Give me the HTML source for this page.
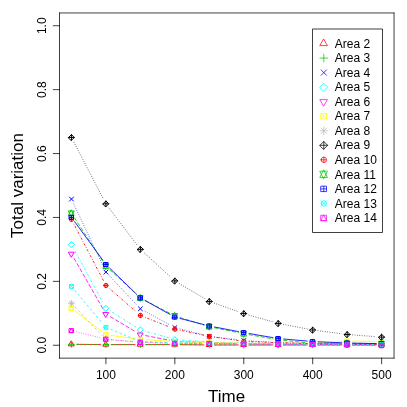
<!DOCTYPE html>
<html><head><meta charset="utf-8"><title>Total variation</title>
<style>html,body{margin:0;padding:0;background:#fff;width:407px;height:407px;overflow:hidden}</style>
</head><body>
<svg width="407" height="407" viewBox="0 0 407 407" style="position:absolute;left:0;top:0;display:block;will-change:transform">
<rect width="407" height="407" fill="#fff"/>
<g fill="none" stroke-linecap="round" stroke-linejoin="round" stroke-width="0.85">
<path d="M76.85 344.35L100.51 344.57M111.31 344.62L134.98 344.62M145.78 344.62L169.44 344.62M180.24 344.67L203.91 344.89M214.71 344.94L238.37 344.94M249.17 344.94L272.84 344.94M283.64 344.94L307.30 344.94M318.10 344.94L341.77 344.94M352.57 344.94L376.23 344.94" stroke="#FF0000" stroke-width="0.85"/>
<path d="M71.45 341.15L74.17 345.88L68.72 345.88ZM105.91 341.47L108.64 346.19L103.19 346.19ZM140.38 341.47L143.10 346.19L137.65 346.19ZM174.84 341.47L177.57 346.19L172.12 346.19ZM209.31 341.79L212.03 346.51L206.58 346.51ZM243.77 341.79L246.50 346.51L241.05 346.51ZM278.24 341.79L280.96 346.51L275.51 346.51ZM312.70 341.79L315.43 346.51L309.98 346.51ZM347.17 341.79L349.89 346.51L344.44 346.51ZM381.63 341.79L384.36 346.51L378.91 346.51Z" stroke="#FF0000" stroke-width="1.0"/>
<path d="M76.85 344.35L100.51 344.57M111.31 344.62L134.98 344.62M145.78 344.62L169.44 344.62M180.24 344.67L203.91 344.89M214.71 344.94L238.37 344.94M249.17 344.94L272.84 344.94M283.64 344.94L307.30 344.94M318.10 344.94L341.77 344.94M352.57 344.94L376.23 344.94" stroke="#00CD00" stroke-width="0.85" stroke-dasharray="1.55 3.25"/>
<path d="M68.58 344.30L74.31 344.30M71.45 341.44L71.45 347.16M103.05 344.62L108.78 344.62M105.91 341.76L105.91 347.48M137.51 344.62L143.24 344.62M140.38 341.76L140.38 347.48M171.98 344.62L177.71 344.62M174.84 341.76L174.84 347.48M206.44 344.94L212.17 344.94M209.31 342.08L209.31 347.80M240.91 344.94L246.64 344.94M243.77 342.08L243.77 347.80M275.37 344.94L281.10 344.94M278.24 342.08L278.24 347.80M309.84 344.94L315.57 344.94M312.70 342.08L312.70 347.80M344.30 344.94L350.03 344.94M347.17 342.08L347.17 347.80M378.77 344.94L384.50 344.94M381.63 342.08L381.63 347.80" stroke="#00CD00" stroke-width="1.0"/>
<path d="M73.75 203.96L103.61 267.21M109.61 276.03L136.68 304.87M145.12 311.39L170.10 325.01M180.08 328.92L204.07 335.04M214.67 337.02L238.41 339.86M249.16 340.84L272.85 342.36M283.64 342.85L307.30 343.51M318.10 343.71L341.77 343.93M352.57 344.03L376.23 344.25" stroke="#0000FF" stroke-width="0.68" stroke-dasharray="0.01 2.39"/>
<path d="M69.42 197.05L73.47 201.10M69.42 201.10L73.47 197.05M103.89 270.06L107.94 274.11M103.89 274.11L107.94 270.06M138.35 306.78L142.40 310.83M138.35 310.83L142.40 306.78M172.82 325.56L176.87 329.61M172.82 329.61L176.87 325.56M207.28 334.35L211.33 338.40M207.28 338.40L211.33 334.35M241.75 338.47L245.80 342.52M241.75 342.52L245.80 338.47M276.21 340.68L280.26 344.73M276.21 344.73L280.26 340.68M310.68 341.64L314.73 345.69M310.68 345.69L314.73 341.64M345.14 341.96L349.19 346.01M345.14 346.01L349.19 341.96M379.61 342.28L383.66 346.33M379.61 346.33L383.66 342.28" stroke="#0000FF" stroke-width="1.0"/>
<path d="M74.02 249.23L103.34 303.45M110.49 311.06L135.80 326.93M145.57 331.26L169.64 338.04M180.23 339.91L203.92 341.66M214.71 342.21L238.37 342.87M249.17 343.12L272.84 343.56M283.64 343.71L307.30 343.93M318.10 343.98L341.77 343.98M352.57 344.03L376.23 344.25" stroke="#00FFFF" stroke-width="0.85" stroke-dasharray="0.01 2.39 1.55 2.65"/>
<path d="M68.58 244.48L71.45 241.62L74.31 244.48L71.45 247.35ZM103.05 308.20L105.91 305.33L108.78 308.20L105.91 311.06ZM137.51 329.79L140.38 326.93L143.24 329.79L140.38 332.66ZM171.98 339.51L174.84 336.64L177.71 339.51L174.84 342.37ZM206.44 342.06L209.31 339.20L212.17 342.06L209.31 344.93ZM240.91 343.02L243.77 340.16L246.64 343.02L243.77 345.89ZM275.37 343.66L278.24 340.80L281.10 343.66L278.24 346.53ZM309.84 343.98L312.70 341.12L315.57 343.98L312.70 346.84ZM344.30 343.98L347.17 341.12L350.03 343.98L347.17 346.84ZM378.77 344.30L381.63 341.44L384.50 344.30L381.63 347.16Z" stroke="#00FFFF" stroke-width="1.0"/>
<path d="M74.13 258.47L103.23 309.32M110.55 316.78L135.74 331.82M145.68 335.61L169.54 340.24M180.24 341.49L203.91 342.48M214.71 342.85L238.37 343.51M249.17 343.71L272.84 343.93M283.64 343.98L307.30 343.98M318.10 344.03L341.77 344.25M352.57 344.35L376.23 344.57" stroke="#FF00FF" stroke-width="0.85" stroke-dasharray="3.35 2.65"/>
<path d="M71.45 256.93L74.17 252.21L68.72 252.21ZM105.91 317.16L108.64 312.44L103.19 312.44ZM140.38 337.74L143.10 333.01L137.65 333.01ZM174.84 344.41L177.57 339.69L172.12 339.69ZM209.31 345.85L212.03 341.13L206.58 341.13ZM243.77 346.81L246.50 342.09L241.05 342.09ZM278.24 347.13L280.96 342.41L275.51 342.41ZM312.70 347.13L315.43 342.41L309.98 342.41ZM347.17 347.45L349.89 342.73L344.44 342.73ZM381.63 347.77L384.36 343.05L378.91 343.05Z" stroke="#FF00FF" stroke-width="1.0"/>
<path d="M75.74 311.66L101.62 331.44M111.26 335.44L135.03 338.68M145.77 339.74L169.45 341.16M180.24 341.68L203.91 342.51M214.71 342.80L238.37 343.24M249.17 343.34L272.84 343.34M283.64 343.34L307.30 343.34M318.09 342.97L341.78 341.32M352.57 341.07L376.23 341.62" stroke="#FFFF00" stroke-width="0.85"/>
<path d="M69.42 306.36L73.47 310.41M69.42 310.41L73.47 306.36M69.42 306.36L73.47 306.36L73.47 310.41L69.42 310.41ZM103.89 332.69L107.94 336.74M103.89 336.74L107.94 332.69M103.89 332.69L107.94 332.69L107.94 336.74L103.89 336.74ZM138.35 337.39L142.40 341.44M138.35 341.44L142.40 337.39M138.35 337.39L142.40 337.39L142.40 341.44L138.35 341.44ZM172.82 339.46L176.87 343.51M172.82 343.51L176.87 339.46M172.82 339.46L176.87 339.46L176.87 343.51L172.82 343.51ZM207.28 340.68L211.33 344.73M207.28 344.73L211.33 340.68M207.28 340.68L211.33 340.68L211.33 344.73L207.28 344.73ZM241.75 341.32L245.80 345.37M241.75 345.37L245.80 341.32M241.75 341.32L245.80 341.32L245.80 345.37L241.75 345.37ZM276.21 341.32L280.26 345.37M276.21 345.37L280.26 341.32M276.21 341.32L280.26 341.32L280.26 345.37L276.21 345.37ZM310.68 341.32L314.73 345.37M310.68 345.37L314.73 341.32M310.68 341.32L314.73 341.32L314.73 345.37L310.68 345.37ZM345.14 338.92L349.19 342.97M345.14 342.97L349.19 338.92M345.14 338.92L349.19 338.92L349.19 342.97L345.14 342.97ZM379.61 339.72L383.66 343.77M379.61 343.77L383.66 339.72M379.61 339.72L383.66 339.72L383.66 343.77L379.61 343.77Z" stroke="#FFFF00" stroke-width="1.0"/>
<path d="M75.18 307.31L102.18 335.60M111.30 339.91L134.99 341.66M145.77 342.26L169.45 343.14M180.24 343.39L203.91 343.61M214.71 343.71L238.37 343.93M249.17 343.98L272.84 343.98M283.64 344.03L307.30 344.25M318.10 344.30L341.77 344.30M352.57 344.30L376.23 344.30" stroke="#BEBEBE" stroke-width="0.85" stroke-dasharray="1.55 3.25"/>
<path d="M69.42 301.38L73.47 305.43M69.42 305.43L73.47 301.38M68.58 303.40L74.31 303.40M71.45 300.54L71.45 306.27M103.89 337.48L107.94 341.53M103.89 341.53L107.94 337.48M103.05 339.51L108.78 339.51M105.91 336.64L105.91 342.37M138.35 340.04L142.40 344.09M138.35 344.09L142.40 340.04M137.51 342.06L143.24 342.06M140.38 339.20L140.38 344.93M172.82 341.32L176.87 345.37M172.82 345.37L176.87 341.32M171.98 343.34L177.71 343.34M174.84 340.48L174.84 346.21M207.28 341.64L211.33 345.69M207.28 345.69L211.33 341.64M206.44 343.66L212.17 343.66M209.31 340.80L209.31 346.53M241.75 341.96L245.80 346.01M241.75 346.01L245.80 341.96M240.91 343.98L246.64 343.98M243.77 341.12L243.77 346.84M276.21 341.96L280.26 346.01M276.21 346.01L280.26 341.96M275.37 343.98L281.10 343.98M278.24 341.12L278.24 346.84M310.68 342.28L314.73 346.33M310.68 346.33L314.73 342.28M309.84 344.30L315.57 344.30M312.70 341.44L312.70 347.16M345.14 342.28L349.19 346.33M345.14 346.33L349.19 342.28M344.30 344.30L350.03 344.30M347.17 341.44L347.17 347.16M379.61 342.28L383.66 346.33M379.61 346.33L383.66 342.28M378.77 344.30L384.50 344.30M381.63 341.44L381.63 347.16" stroke="#BEBEBE" stroke-width="1.0"/>
<path d="M73.94 142.24L103.42 199.02M109.17 208.11L137.12 245.03M144.36 252.99L170.86 277.26M179.48 283.67L204.67 298.69M214.40 303.25L238.68 311.80M248.97 315.07L273.04 321.93M283.54 324.42L307.40 328.97M318.06 330.69L341.81 333.79M352.55 334.90L376.25 336.70" stroke="#000000" stroke-width="0.68" stroke-dasharray="0.01 2.39"/>
<path d="M68.58 137.44L74.31 137.44M71.45 134.58L71.45 140.31M68.58 137.44L71.45 134.58L74.31 137.44L71.45 140.31ZM103.05 203.81L108.78 203.81M105.91 200.94L105.91 206.67M103.05 203.81L105.91 200.94L108.78 203.81L105.91 206.67ZM137.51 249.34L143.24 249.34M140.38 246.48L140.38 252.20M137.51 249.34L140.38 246.48L143.24 249.34L140.38 252.20ZM171.98 280.91L177.71 280.91M174.84 278.04L174.84 283.77M171.98 280.91L174.84 278.04L177.71 280.91L174.84 283.77ZM206.44 301.45L212.17 301.45M209.31 298.59L209.31 304.32M206.44 301.45L209.31 298.59L212.17 301.45L209.31 304.32ZM240.91 313.59L246.64 313.59M243.77 310.73L243.77 316.46M240.91 313.59L243.77 310.73L246.64 313.59L243.77 316.46ZM275.37 323.40L281.10 323.40M278.24 320.54L278.24 326.27M275.37 323.40L278.24 320.54L281.10 323.40L278.24 326.27ZM309.84 329.99L315.57 329.99M312.70 327.12L312.70 332.85M309.84 329.99L312.70 327.12L315.57 329.99L312.70 332.85ZM344.30 334.49L350.03 334.49M347.17 331.63L347.17 337.36M344.30 334.49L347.17 331.63L350.03 334.49L347.17 337.36ZM378.77 337.11L384.50 337.11M381.63 334.25L381.63 339.98M378.77 337.11L381.63 334.25L384.50 337.11L381.63 339.98Z" stroke="#000000" stroke-width="1.0"/>
<path d="M73.94 224.16L103.42 280.66M109.99 288.99L136.30 311.90M145.40 317.44L169.82 327.10M180.12 330.22L204.03 335.31M214.65 337.19L238.43 340.54M249.17 341.52L272.84 342.48M283.64 342.85L307.30 343.51M318.10 343.71L341.77 343.93M352.57 344.03L376.23 344.25" stroke="#FF0000" stroke-width="0.85" stroke-dasharray="0.01 2.39 1.55 2.65"/>
<path d="M69.42 219.37a2.03 2.03 0 1 0 4.05 0a2.03 2.03 0 1 0 -4.05 0ZM69.42 219.37L73.47 219.37M71.45 217.34L71.45 221.39M103.89 285.45a2.03 2.03 0 1 0 4.05 0a2.03 2.03 0 1 0 -4.05 0ZM103.89 285.45L107.94 285.45M105.91 283.42L105.91 287.47M138.35 315.45a2.03 2.03 0 1 0 4.05 0a2.03 2.03 0 1 0 -4.05 0ZM138.35 315.45L142.40 315.45M140.38 313.42L140.38 317.47M172.82 329.09a2.03 2.03 0 1 0 4.05 0a2.03 2.03 0 1 0 -4.05 0ZM172.82 329.09L176.87 329.09M174.84 327.07L174.84 331.12M207.28 336.44a2.03 2.03 0 1 0 4.05 0a2.03 2.03 0 1 0 -4.05 0ZM207.28 336.44L211.33 336.44M209.31 334.42L209.31 338.47M241.75 341.30a2.03 2.03 0 1 0 4.05 0a2.03 2.03 0 1 0 -4.05 0ZM241.75 341.30L245.80 341.30M243.77 339.27L243.77 343.32M276.21 342.70a2.03 2.03 0 1 0 4.05 0a2.03 2.03 0 1 0 -4.05 0ZM276.21 342.70L280.26 342.70M278.24 340.68L278.24 344.73M310.68 343.66a2.03 2.03 0 1 0 4.05 0a2.03 2.03 0 1 0 -4.05 0ZM310.68 343.66L314.73 343.66M312.70 341.64L312.70 345.69M345.14 343.98a2.03 2.03 0 1 0 4.05 0a2.03 2.03 0 1 0 -4.05 0ZM345.14 343.98L349.19 343.98M347.17 341.96L347.17 346.01M379.61 344.30a2.03 2.03 0 1 0 4.05 0a2.03 2.03 0 1 0 -4.05 0ZM379.61 344.30L383.66 344.30M381.63 342.28L381.63 346.33" stroke="#FF0000" stroke-width="1.0"/>
<path d="M74.40 217.82L102.96 261.50M109.87 269.69L136.42 294.30M145.17 300.46L170.05 313.38M179.99 317.49L204.16 325.10M214.60 327.81L238.48 332.68M249.09 334.69L272.92 338.89M283.61 340.38L307.33 342.79M318.10 343.34L341.77 343.34M352.57 343.39L376.23 343.61" stroke="#00CD00" stroke-width="0.85" stroke-dasharray="3.35 2.65"/>
<path d="M71.45 216.45L74.17 210.94L68.72 210.94ZM71.45 210.15L74.17 215.66L68.72 215.66ZM105.91 269.17L108.64 263.66L103.19 263.66ZM105.91 262.87L108.64 268.38L103.19 268.38ZM140.38 301.12L143.10 295.61L137.65 295.61ZM140.38 294.82L143.10 300.33L137.65 300.33ZM174.84 319.01L177.57 313.50L172.12 313.50ZM174.84 312.71L177.57 318.23L172.12 318.23ZM209.31 329.88L212.03 324.37L206.58 324.37ZM209.31 323.58L212.03 329.09L206.58 329.09ZM243.77 336.91L246.50 331.39L241.05 331.39ZM243.77 330.61L246.50 336.12L241.05 336.12ZM278.24 342.98L280.96 337.47L275.51 337.47ZM278.24 336.68L280.96 342.19L275.51 342.19ZM312.70 346.49L315.43 340.98L309.98 340.98ZM312.70 340.19L315.43 345.70L309.98 345.70ZM347.17 346.49L349.89 340.98L344.44 340.98ZM347.17 340.19L349.89 345.70L344.44 345.70ZM381.63 346.81L384.36 341.30L378.91 341.30ZM381.63 340.51L384.36 346.02L378.91 346.02Z" stroke="#00CD00" stroke-width="1.0"/>
<path d="M74.63 221.65L102.73 260.12M109.79 268.24L136.50 294.15M145.09 300.53L170.13 314.48M180.07 318.46L204.08 324.64M214.61 327.01L238.47 331.59M249.09 333.52L272.92 337.63M283.62 339.02L307.32 341.08M318.10 341.78L341.77 342.79M352.57 343.12L376.23 343.56" stroke="#0000FF" stroke-width="0.85"/>
<path d="M69.42 217.29L73.47 217.29M71.45 215.27L71.45 219.32M69.42 215.27L73.47 215.27L73.47 219.32L69.42 219.32ZM103.89 264.48L107.94 264.48M105.91 262.46L105.91 266.51M103.89 262.46L107.94 262.46L107.94 266.51L103.89 266.51ZM138.35 297.91L142.40 297.91M140.38 295.88L140.38 299.93M138.35 295.88L142.40 295.88L142.40 299.93L138.35 299.93ZM172.82 317.11L176.87 317.11M174.84 315.08L174.84 319.13M172.82 315.08L176.87 315.08L176.87 319.13L172.82 319.13ZM207.28 325.99L211.33 325.99M209.31 323.97L209.31 328.02M207.28 323.97L211.33 323.97L211.33 328.02L207.28 328.02ZM241.75 332.61L245.80 332.61M243.77 330.58L243.77 334.63M241.75 330.58L245.80 330.58L245.80 334.63L241.75 334.63ZM276.21 338.55L280.26 338.55M278.24 336.52L278.24 340.57M276.21 336.52L280.26 336.52L280.26 340.57L276.21 340.57ZM310.68 341.55L314.73 341.55M312.70 339.53L312.70 343.58M310.68 339.53L314.73 339.53L314.73 343.58L310.68 343.58ZM345.14 343.02L349.19 343.02M347.17 341.00L347.17 345.05M345.14 341.00L349.19 341.00L349.19 345.05L345.14 345.05ZM379.61 343.66L383.66 343.66M381.63 341.64L381.63 345.69M379.61 341.64L383.66 341.64L383.66 345.69L379.61 345.69Z" stroke="#0000FF" stroke-width="1.0"/>
<path d="M74.93 290.60L102.43 323.27M110.91 329.44L135.38 339.45M145.77 341.68L169.45 342.51M180.24 342.80L203.91 343.24M214.71 343.39L238.37 343.61M249.17 343.71L272.84 343.93M283.64 344.03L307.30 344.25M318.10 344.30L341.77 344.30M352.57 344.35L376.23 344.57" stroke="#00FFFF" stroke-width="0.85" stroke-dasharray="1.55 3.25"/>
<path d="M69.42 286.47a2.03 2.03 0 1 0 4.05 0a2.03 2.03 0 1 0 -4.05 0ZM69.42 284.44L73.47 288.49M69.42 288.49L73.47 284.44M103.89 327.40a2.03 2.03 0 1 0 4.05 0a2.03 2.03 0 1 0 -4.05 0ZM103.89 325.37L107.94 329.42M103.89 329.42L107.94 325.37M138.35 341.49a2.03 2.03 0 1 0 4.05 0a2.03 2.03 0 1 0 -4.05 0ZM138.35 339.46L142.40 343.51M138.35 343.51L142.40 339.46M172.82 342.70a2.03 2.03 0 1 0 4.05 0a2.03 2.03 0 1 0 -4.05 0ZM172.82 340.68L176.87 344.73M172.82 344.73L176.87 340.68M207.28 343.34a2.03 2.03 0 1 0 4.05 0a2.03 2.03 0 1 0 -4.05 0ZM207.28 341.32L211.33 345.37M207.28 345.37L211.33 341.32M241.75 343.66a2.03 2.03 0 1 0 4.05 0a2.03 2.03 0 1 0 -4.05 0ZM241.75 341.64L245.80 345.69M241.75 345.69L245.80 341.64M276.21 343.98a2.03 2.03 0 1 0 4.05 0a2.03 2.03 0 1 0 -4.05 0ZM276.21 341.96L280.26 346.01M276.21 346.01L280.26 341.96M310.68 344.30a2.03 2.03 0 1 0 4.05 0a2.03 2.03 0 1 0 -4.05 0ZM310.68 342.28L314.73 346.33M310.68 346.33L314.73 342.28M345.14 344.30a2.03 2.03 0 1 0 4.05 0a2.03 2.03 0 1 0 -4.05 0ZM345.14 342.28L349.19 346.33M345.14 346.33L349.19 342.28M379.61 344.62a2.03 2.03 0 1 0 4.05 0a2.03 2.03 0 1 0 -4.05 0ZM379.61 342.60L383.66 346.65M379.61 346.65L383.66 342.60" stroke="#00FFFF" stroke-width="1.0"/>
<path d="M76.69 331.90L100.67 337.88M111.29 339.69L135.00 341.89M145.78 342.53L169.44 343.19M180.24 343.39L203.91 343.61M214.71 343.71L238.37 343.93M249.17 344.03L272.84 344.25M283.64 344.30L307.30 344.30M318.10 344.40L341.77 344.84M352.57 345.04L376.23 345.48" stroke="#FF00FF" stroke-width="0.68" stroke-dasharray="0.01 2.39"/>
<path d="M71.45 328.57L73.47 332.62L69.42 332.62ZM69.42 328.57L73.47 328.57L73.47 332.62L69.42 332.62ZM105.91 337.16L107.94 341.21L103.89 341.21ZM103.89 337.16L107.94 337.16L107.94 341.21L103.89 341.21ZM140.38 340.36L142.40 344.41L138.35 344.41ZM138.35 340.36L142.40 340.36L142.40 344.41L138.35 344.41ZM174.84 341.32L176.87 345.37L172.82 345.37ZM172.82 341.32L176.87 341.32L176.87 345.37L172.82 345.37ZM209.31 341.64L211.33 345.69L207.28 345.69ZM207.28 341.64L211.33 341.64L211.33 345.69L207.28 345.69ZM243.77 341.96L245.80 346.01L241.75 346.01ZM241.75 341.96L245.80 341.96L245.80 346.01L241.75 346.01ZM278.24 342.28L280.26 346.33L276.21 346.33ZM276.21 342.28L280.26 342.28L280.26 346.33L276.21 346.33ZM312.70 342.28L314.73 346.33L310.68 346.33ZM310.68 342.28L314.73 342.28L314.73 346.33L310.68 346.33ZM347.17 342.91L349.19 346.96L345.14 346.96ZM345.14 342.91L349.19 342.91L349.19 346.96L345.14 346.96ZM381.63 343.55L383.66 347.60L379.61 347.60ZM379.61 343.55L383.66 343.55L383.66 347.60L379.61 347.60Z" stroke="#FF00FF" stroke-width="1.0"/>
</g>
<g fill="none" stroke="#000" stroke-width="0.75" stroke-linecap="round" stroke-linejoin="round">
<path d="M105.91 358.04L105.91 363.80M174.84 358.04L174.84 363.80M243.77 358.04L243.77 363.80M312.70 358.04L312.70 363.80M381.63 358.04L381.63 363.80M59.50 345.26L53.28 345.26M59.50 281.36L53.28 281.36M59.50 217.45L53.28 217.45M59.50 153.55L53.28 153.55M59.50 89.64L53.28 89.64M59.50 25.74L53.28 25.74"/>
<path d="M59.50 12.96L394.04 12.96M394.04 12.96L394.04 358.15M394.04 358.15L59.50 358.15M59.50 358.15L59.50 12.96"/>
</g>
<g font-family="Liberation Sans, sans-serif" fill="#000" text-anchor="middle">
<text x="105.91" y="378.60" font-size="12">100</text>
<text x="174.84" y="378.60" font-size="12">200</text>
<text x="243.77" y="378.60" font-size="12">300</text>
<text x="312.70" y="378.60" font-size="12">400</text>
<text x="381.63" y="378.60" font-size="12">500</text>
<text transform="translate(45.50 345.26) rotate(-90)" font-size="12">0.0</text>
<text transform="translate(45.50 281.36) rotate(-90)" font-size="12">0.2</text>
<text transform="translate(45.50 217.45) rotate(-90)" font-size="12">0.4</text>
<text transform="translate(45.50 153.55) rotate(-90)" font-size="12">0.6</text>
<text transform="translate(45.50 89.64) rotate(-90)" font-size="12">0.8</text>
<text transform="translate(45.50 25.74) rotate(-90)" font-size="12">1.0</text>
<text x="226.54" y="402.30" font-size="17.0">Time</text>
<text transform="translate(22.70 185.50) rotate(-90)" font-size="17.0">Total variation</text>
</g>
<path d="M312.50 29.00L382.50 29.00L382.50 232.50L312.50 232.50Z" fill="#fff" stroke="#000" stroke-width="0.75" stroke-linejoin="round"/>
<g fill="none" stroke-linecap="round" stroke-linejoin="round" stroke-width="0.75">
<path d="M323.80 39.34L327.44 45.64L320.16 45.64Z" stroke="#FF0000"/>
<path d="M319.98 58.07L327.62 58.07M323.80 54.25L323.80 61.89" stroke="#00CD00"/>
<path d="M321.10 69.91L326.50 75.31M321.10 75.31L326.50 69.91" stroke="#0000FF"/>
<path d="M319.98 87.14L323.80 83.32L327.62 87.14L323.80 90.96Z" stroke="#00FFFF"/>
<path d="M323.80 105.88L327.44 99.58L320.16 99.58Z" stroke="#FF00FF"/>
<path d="M321.10 113.51L326.50 118.91M321.10 118.91L326.50 113.51M321.10 113.51L326.50 113.51L326.50 118.91L321.10 118.91Z" stroke="#FFFF00"/>
<path d="M321.10 128.05L326.50 133.45M321.10 133.45L326.50 128.05M319.98 130.75L327.62 130.75M323.80 126.93L323.80 134.57" stroke="#BEBEBE"/>
<path d="M319.98 145.29L327.62 145.29M323.80 141.47L323.80 149.10M319.98 145.29L323.80 141.47L327.62 145.29L323.80 149.10Z" stroke="#000000"/>
<path d="M321.10 159.82a2.70 2.70 0 1 0 5.40 0a2.70 2.70 0 1 0 -5.40 0ZM321.10 159.82L326.50 159.82M323.80 157.12L323.80 162.52" stroke="#FF0000"/>
<path d="M323.80 178.56L327.44 171.21L320.16 171.21ZM323.80 170.16L327.44 177.51L320.16 177.51Z" stroke="#00CD00"/>
<path d="M321.10 188.89L326.50 188.89M323.80 186.19L323.80 191.59M321.10 186.19L326.50 186.19L326.50 191.59L321.10 191.59Z" stroke="#0000FF"/>
<path d="M321.10 203.43a2.70 2.70 0 1 0 5.40 0a2.70 2.70 0 1 0 -5.40 0ZM321.10 200.73L326.50 206.13M321.10 206.13L326.50 200.73" stroke="#00FFFF"/>
<path d="M323.80 215.26L326.50 220.66L321.10 220.66ZM321.10 215.26L326.50 215.26L326.50 220.66L321.10 220.66Z" stroke="#FF00FF"/>
</g>
<g font-family="Liberation Sans, sans-serif" fill="#000" font-size="12">
<text x="334.85" y="47.74">Area 2</text>
<text x="334.85" y="62.27">Area 3</text>
<text x="334.85" y="76.81">Area 4</text>
<text x="334.85" y="91.34">Area 5</text>
<text x="334.85" y="105.88">Area 6</text>
<text x="334.85" y="120.41">Area 7</text>
<text x="334.85" y="134.95">Area 8</text>
<text x="334.85" y="149.49">Area 9</text>
<text x="334.85" y="164.02">Area 10</text>
<text x="334.85" y="178.56">Area 11</text>
<text x="334.85" y="193.09">Area 12</text>
<text x="334.85" y="207.63">Area 13</text>
<text x="334.85" y="222.16">Area 14</text>
</g>
</svg>
</body></html>
